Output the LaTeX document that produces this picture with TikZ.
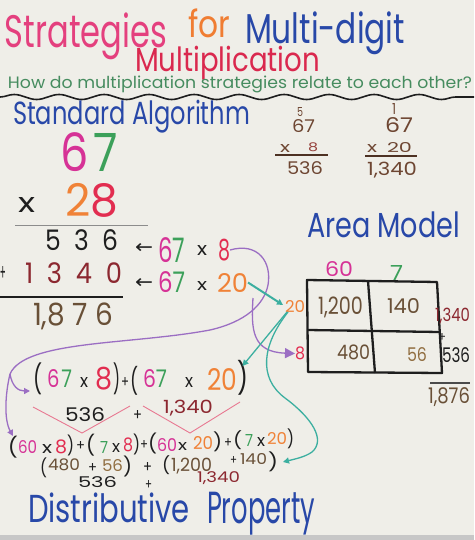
\documentclass[tikz,border=0pt]{standalone}
\usepackage{fontspec}
\setmainfont{Poppins}
\newfontfamily\symf{DejaVu Sans}
\usepackage{graphicx}
\usetikzlibrary{decorations.pathmorphing,arrows.meta}
\definecolor{paper}{RGB}{239,238,232}
\definecolor{pinkT}{RGB}{228,64,126}
\definecolor{orangeT}{RGB}{240,125,50}
\definecolor{blueT}{RGB}{40,72,168}
\definecolor{crim}{RGB}{218,40,78}
\definecolor{subg}{RGB}{70,140,95}
\definecolor{mag}{RGB}{214,50,150}
\definecolor{grn}{RGB}{60,160,90}
\definecolor{org}{RGB}{240,130,55}
\definecolor{redE}{RGB}{226,45,80}
\definecolor{maroon}{RGB}{140,40,48}
\definecolor{brown}{RGB}{105,80,55}
\definecolor{dbrown}{RGB}{110,70,50}
\definecolor{rbrown}{RGB}{150,65,60}
\definecolor{tan}{RGB}{145,110,65}
\definecolor{ink}{RGB}{30,30,30}
\definecolor{tealc}{RGB}{60,175,160}
\definecolor{purp}{RGB}{155,110,195}
\definecolor{pinkl}{RGB}{232,120,145}
\newcommand\Tx[6]{\node[anchor=south west,inner sep=0pt,outer sep=0pt,text=#1] (#2) at (#3) {\resizebox*{#4pt}{#5pt}{#6}};}
\tikzset{
  purpline/.style={purp,line width=1.3pt},
  tealline/.style={tealc,line width=1.3pt},
  tip/.style={-{Triangle[length=6pt,width=6pt]}},
  bigtip/.style={-{Triangle[length=10pt,width=10pt]}},
}
\begin{document}
\begin{tikzpicture}[x=1pt,y=-1pt]
\useasboundingbox (0,0) rectangle (474,540);
\fill[paper] (0,0) rectangle (474,540);
\fill[black!22] (0,535) rectangle (474,540);
% title
\Tx{pinkT}{tS}{5,60}{162}{47}{Strategies}
\Tx{orangeT}{tF}{188,38}{42}{29}{for}
\Tx{blueT}{tM}{245,55}{160}{43}{Multi-digit}
\Tx{crim}{tMu}{135,80}{185}{34}{Multiplication}
\Tx{subg}{sub}{8,93}{464}{17}{How do multiplication strategies relate to each other?}
\draw[ink,line width=1.6pt,decorate,decoration={snake,segment length=45pt,amplitude=2.5pt}] (0,97) -- (474,97);
% standard algorithm
\Tx{blueT}{sa}{13,133}{237}{33}{Standard Algorithm}
\Tx{ink}{big67}{60,172}{58}{39}{\color{mag}6\hspace{0.12em}\color{grn}7}
\Tx{ink}{bx}{18,212}{17}{15}{x}
\Tx{ink}{b28}{65,217}{53}{34}{\color{org}2\color{redE}8}
\draw[black!45,line width=0.8pt] (15,225) -- (148,225);
\Tx{ink}{p536}{45,251}{73}{21}{5\ \ 3\ \ 6}
\Tx{ink}{pplus}{0,280}{6}{14}{+}
\Tx{maroon}{p1340}{25,284}{97}{21}{1\ \ 3\ \ 4\ \ 0}
\draw[ink,line width=1.6pt] (0,297) -- (123,297);
\Tx{brown}{p1876}{33,330}{80}{27}{1,8\ 7\ 6}
\Tx{ink}{ar1}{135,253}{18}{10}{\symf ←}
\Tx{ink}{m67a}{158,263}{27}{25}{\color{mag}6\color{grn}7}
\Tx{ink}{mxa}{197,255}{10}{10}{x}
\Tx{redE}{s8}{218,261}{12}{22}{8}
\Tx{ink}{ar2}{135,288}{18}{10}{\symf ←}
\Tx{ink}{m67b}{158,293}{27}{21}{\color{mag}6\color{grn}7}
\Tx{ink}{mxb}{197,290}{10}{9}{x}
\Tx{org}{t20}{217,292}{31}{19}{20}
% partial products (top right)
\Tx{dbrown}{c5}{297,117}{6}{9}{5}
\Tx{dbrown}{c67a}{292,133}{23}{13}{67}
\Tx{dbrown}{cxa}{280,152}{10}{8}{x}
\Tx{rbrown}{c8}{308,152}{10}{9}{8}
\draw[dbrown!70!black,line width=1.5pt] (275,155) -- (328,155);
\Tx{dbrown}{c536}{287,175}{36}{13}{536}
\Tx{dbrown}{c1}{392,115}{4}{11}{1}
\Tx{dbrown}{c67b}{385,133}{28}{15}{67}
\Tx{dbrown}{cxb}{367,153}{10}{8}{x}
\Tx{dbrown}{c20}{387,153}{25}{10}{20}
\draw[dbrown!70!black,line width=1.5pt] (365,156) -- (417,156);
\Tx{dbrown}{c1340}{367,178}{50}{16}{1,340}
% area model
\Tx{blueT}{am}{307,238}{153}{26}{Area Model}
\Tx{mag}{a60}{325,277}{28}{15}{60}
\Tx{grn}{a7}{390,280}{13}{15}{7}
\draw[ink,line width=2.3pt,line join=round] (307,280) -- (437,282) -- (442,373) -- (308,372) -- cycle;
\draw[ink,line width=2.3pt] (308,330) -- (439,332);
\draw[ink,line width=2.3pt] (368,281) -- (375,373);
\Tx{brown}{g1200}{318,318}{45}{21}{1,200}
\Tx{brown}{g140}{387,313}{33}{15}{140}
\Tx{brown}{g480}{337,360}{33}{15}{480}
\Tx{tan}{g56}{407,362}{20}{14}{56}
\Tx{org}{a20}{285,312}{20}{12}{20}
\Tx{redE}{a8}{295,360}{10}{13}{8}
\Tx{maroon}{r1340}{435,324}{35}{16}{1,340}
\Tx{ink}{rplus}{438,341}{8}{8}{+}
\Tx{ink}{r536}{442,363}{28}{15}{536}
\draw[ink!80,line width=1.2pt] (430,383) -- (470,383);
\Tx{brown}{r1876}{428,407}{42}{19}{1,876}
% distributive row 1
\Tx{ink}{q1}{33,395}{9}{32}{(}
\Tx{ink}{q67a}{47,388}{25}{18}{\color{mag}6\hspace{0.1em}\color{grn}7}
\Tx{ink}{qxa}{80,387}{8}{10}{x}
\Tx{redE}{q8}{95,390}{17}{23}{8}
\Tx{ink}{q2}{113,395}{7}{32}{)}
\Tx{ink}{qp}{121,387}{8}{10}{+}
\Tx{ink}{q3}{130,395}{8}{29}{(}
\Tx{ink}{q67b}{143,388}{24}{18}{\color{mag}6\color{grn}7}
\Tx{ink}{qxb}{185,387}{8}{10}{x}
\Tx{org}{q20}{207,390}{30}{22}{20}
\Tx{ink}{q4}{237,395}{11}{35}{)}
\draw[pinkl,line width=0.9pt] (33,407) -- (82,433) -- (130,406);
\draw[pinkl,line width=0.9pt] (143,406) -- (190,433) -- (240,402);
\Tx{ink}{v536}{65,422}{40}{14}{536}
\Tx{ink}{vp}{133,420}{9}{10}{+}
\Tx{maroon}{v1340}{163,416}{50}{16}{1,340}
% distributive row 2
\Tx{ink}{la1}{8,458}{10}{22}{(}
\Tx{mag}{la2}{18,454}{19}{13}{60}
\Tx{ink}{la3}{42,453}{10}{9}{x}
\Tx{redE}{la4}{55,454}{12}{14}{8}
\Tx{ink}{la5}{67,456}{7}{21}{)}
\Tx{ink}{la6}{76,450}{9}{9}{+}
\Tx{ink}{la7}{86,456}{9}{22}{(}
\Tx{grn}{la8}{100,453}{8}{12}{7}
\Tx{ink}{la9}{112,452}{8}{9}{x}
\Tx{redE}{la10}{123,452}{10}{14}{8}
\Tx{ink}{la11}{133,455}{7}{21}{)}
\Tx{ink}{la12}{140,449}{8}{9}{+}
\Tx{ink}{la13}{148,454}{9}{21}{(}
\Tx{mag}{la14}{157,452}{20}{13}{60}
\Tx{ink}{la15}{178,450}{9}{8}{x}
\Tx{org}{la16}{193,449}{20}{13}{20}
\Tx{ink}{la17}{213,452}{9}{20}{)}
\Tx{ink}{la18}{224,447}{8}{9}{+}
\Tx{ink}{la19}{233,450}{9}{19}{(}
\Tx{grn}{la20}{245,446}{8}{12}{7}
\Tx{ink}{la21}{257,446}{8}{9}{x}
\Tx{org}{la22}{267,444}{20}{12}{20}
\Tx{ink}{la23}{287,449}{7}{20}{)}
% distributive row 3
\Tx{ink}{lb1}{40,478}{7}{20}{(}
\Tx{brown}{lb2}{48,471}{32}{12}{480}
\Tx{ink}{lb3}{88,472}{9}{9}{+}
\Tx{tan}{lb4}{102,472}{21}{12}{56}
\Tx{ink}{lb5}{123,477}{9}{21}{)}
\Tx{ink}{lb6}{143,472}{9}{10}{+}
\Tx{ink}{lb7}{162,475}{8}{19}{(}
\Tx{brown}{lb8}{171,474}{41}{16}{1,200}
\Tx{ink}{lb9}{230,464}{7}{8}{+}
\Tx{brown}{lb10}{240,464}{27}{11}{140}
\Tx{ink}{lb11}{268,472}{10}{20}{)}
% row 4
\Tx{ink}{lc1}{78,488}{39}{11}{536}
\Tx{ink}{lc2}{145,489}{7}{9}{+}
\Tx{maroon}{lc3}{197,485}{43}{13}{1,340}
\Tx{blueT}{dp1}{28,523}{162}{30}{Distributive}
\Tx{blueT}{dp2}{207,535}{108}{43}{Property}
% connectors
\coordinate (pb) at (10,374);
\coordinate (p2s) at (253,298);
\draw[purpline] (s8.east) .. controls (258,242) and (272,262) .. (268,285) .. controls (264,305) and (245,322) .. (210,330) .. controls (130,345) and (25,340) .. (pb);
\draw[purpline,tip] (pb) .. controls (5,395) and (4,420) .. (la1.north);
\draw[purpline,tip] (pb) .. controls (12,386) and (18,391) .. ([shift={(-3,-4)}]q1.south west);
\draw[purpline,bigtip] (p2s) .. controls (251,330) and (252,352) .. (a8.west);
\draw[tealline,line width=2pt,tip] (t20.east) -- ([shift={(-2,-1)}]a20.west);
\draw[tealline,tip] ([shift={(2,0)}]a20.south west) -- ([yshift=-6pt]q4.north);
\draw[tealline,tip] ([shift={(3,0)}]a20.south west) .. controls (262,345) and (258,378) .. (285,398) .. controls (312,418) and (326,440) .. (312,452) .. controls (305,457) and (295,459) .. ([xshift=5pt]lb11.east);
\end{tikzpicture}
\end{document}
